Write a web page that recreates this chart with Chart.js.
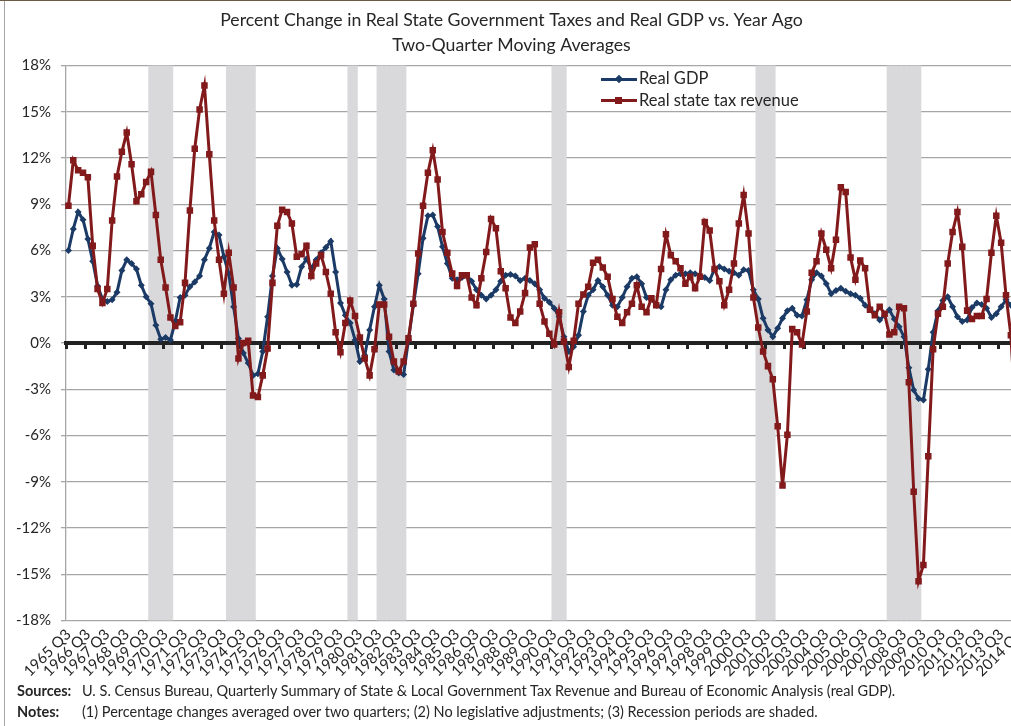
<!DOCTYPE html>
<html>
<head>
<meta charset="utf-8">
<script src="https://cdn.jsdelivr.net/npm/chart.js@4.4.1/dist/chart.umd.min.js"></script>
<style>
  html, body { margin: 0; padding: 0; background: #fff; overflow: hidden; }
  body { width: 1011px; height: 726px; position: relative; font-family: Lato, 'Open Sans', sans-serif; color: #262626; }
  #c { position: absolute; left: 0; top: 0; }
  .frame-left { position: absolute; left: 4px; top: 0; width: 1px; height: 726px; background: #a6a6a6; }
  .frame-top { position: absolute; left: 0; top: 0; width: 1011px; height: 1px; background: #6b5a45; }
  .legend { position: absolute; left: 600px; top: 68px; font-size: 16.5px; }
  .legend-row { position: relative; height: 21.5px; }
  .legend-line { position: absolute; left: 1px; top: 9.5px; width: 36px; height: 3px; }
  .legend-mark { position: absolute; left: 15px; top: 7.5px; width: 7px; height: 7px; }
  .legend-mark.diamond { transform: rotate(45deg); width: 6px; height: 6px; left: 16px; top: 8px; }
  .legend-text { position: absolute; left: 39px; top: 0px; white-space: nowrap; }
  .foot { position: absolute; left: 17px; font-size: 14.5px; white-space: nowrap; }
  .foot b { display: inline-block; width: 65px; }
</style>
</head>
<body>
<canvas id="c" width="1030" height="726"></canvas>
<div class="frame-left"></div>
<div class="frame-top"></div>

<div class="legend">
  <div class="legend-row">
    <div class="legend-line" style="background:#1b3a66"></div>
    <div class="legend-mark diamond" style="background:#1b3a66"></div>
    <div class="legend-text">Real GDP</div>
  </div>
  <div class="legend-row">
    <div class="legend-line" style="background:#82191b"></div>
    <div class="legend-mark" style="background:#82191b"></div>
    <div class="legend-text">Real state tax revenue</div>
  </div>
</div>

<div class="foot" style="top:682px"><b>Sources:</b>U. S. Census Bureau, Quarterly Summary of State &amp; Local Government Tax Revenue and Bureau of Economic Analysis (real GDP).</div>
<div class="foot" style="top:703px"><b>Notes:</b>(1) Percentage changes averaged over two quarters; (2) No legislative adjustments; (3) Recession periods are shaded.</div>

<script>
// Percent change vs. year ago, two-quarter moving averages, 1965 Q3 onward

const firstYear = 1965;
const labelCount = 197; // 1965 Q3 .. 2014 Q3

const quarterLabels = [];
for (let i = 0; i < labelCount; i++) {
    const q = 2 + i;
    quarterLabels.push(`${firstYear + Math.floor(q / 4)} Q${(q % 4) + 1}`);
}

const recessions = [
    ['1969 Q4', '1970 Q4'],
    ['1973 Q4', '1975 Q1'],
    ['1980 Q1', '1980 Q2'],
    ['1981 Q3', '1982 Q4'],
    ['1990 Q3', '1991 Q1'],
    ['2001 Q1', '2001 Q4'],
    ['2007 Q4', '2009 Q2'],
];

const yTicks = [-18, -15, -12, -9, -6, -3, 0, 3, 6, 9, 12, 15, 18];

const realGdp = [
    6.0, 7.4, 8.5, 8.0, 6.75, 5.3, 3.7, 2.85, 2.7, 2.8,
    3.3, 4.7, 5.4, 5.15, 4.8, 3.75, 3.0, 2.55, 1.15, 0.25,
    0.35, 0.2, 1.4, 2.95, 3.1, 3.65, 3.95, 4.35, 5.4, 6.15,
    7.2, 7.0, 5.6, 4.5, 2.35, 0.3, -0.65, -1.3, -2.1, -2.0,
    -0.55, 1.7, 4.35, 6.15, 5.45, 4.6, 3.75, 3.8, 4.95, 5.45,
    4.85, 5.4, 5.85, 6.2, 6.6, 4.6, 2.6, 1.8, 1.3, 0.2,
    -1.2, -0.8, 0.85, 2.35, 3.75, 2.85, -0.55, -1.75, -1.95, -2.05,
    0.2, 2.45, 4.5, 6.8, 8.25, 8.3, 7.55, 6.25, 5.15, 4.2,
    4.1, 4.25, 4.4, 4.0, 3.45, 3.1, 2.85, 3.1, 3.45, 4.0,
    4.4, 4.45, 4.35, 4.05, 4.2, 4.05, 3.85, 3.45, 2.9, 2.65,
    2.25, 1.7, 0.4, -0.55, -0.25, 0.5, 2.05, 3.1, 3.45, 4.05,
    3.65, 3.1, 2.45, 2.35, 2.95, 3.65, 4.2, 4.3, 3.85, 2.95,
    2.85, 2.45, 2.35, 3.45, 4.1, 4.4, 4.5, 4.5, 4.55, 4.5,
    4.4, 4.25, 4.05, 4.8, 4.95, 4.8, 4.65, 4.55, 4.4, 4.75,
    4.7, 3.45, 2.85, 1.6, 0.85, 0.4, 0.95, 1.6, 2.1, 2.25,
    1.8, 1.75, 2.8, 4.1, 4.55, 4.35, 3.85, 3.2, 3.4, 3.55,
    3.35, 3.2, 3.1, 2.9, 2.45, 2.2, 1.9, 1.5, 1.8, 2.15,
    1.55, 1.05, 0.4, -1.6, -3.05, -3.6, -3.7, -1.7, 0.7, 2.1,
    2.75, 3.0, 2.35, 1.7, 1.4, 1.5, 2.3, 2.6, 2.5, 2.25,
    1.65, 1.9, 2.35, 2.8, 2.45, 2.55
];

const realStateTax = [
    8.9, 11.85, 11.2, 11.05, 10.75, 6.3, 3.5, 2.6, 3.5, 7.95,
    10.8, 12.4, 13.65, 11.6, 9.2, 9.65, 10.45, 11.1, 8.3, 5.4,
    3.6, 1.65, 1.1, 1.35, 3.9, 8.6, 12.6, 15.15, 16.7, 12.25,
    7.95, 5.4, 3.2, 5.85, 3.6, -1.0, 0.0, 0.15, -3.4, -3.5,
    -2.1, -0.35, 3.9, 7.6, 8.65, 8.5, 7.75, 5.6, 5.75, 6.3,
    4.35, 5.15, 5.7, 4.6, 3.2, 0.7, -0.6, 1.3, 2.75, 1.75,
    0.35, -1.0, -2.1, -0.4, 2.5, 2.5, 0.4, -1.2, -1.85, -1.2,
    0.3, 2.55, 5.8, 8.9, 11.05, 12.5, 10.6, 7.2, 5.85, 4.5,
    3.7, 4.4, 4.4, 2.95, 2.45, 4.2, 5.9, 8.05, 7.45, 4.65,
    3.55, 1.65, 1.3, 2.05, 3.25, 6.2, 6.4, 2.55, 1.4, 0.6,
    -0.1, 2.0, 0.1, -1.55, 0.15, 2.55, 3.15, 3.65, 5.2, 5.4,
    4.9, 4.3, 2.85, 1.7, 1.3, 2.0, 2.55, 3.75, 2.35, 2.0,
    2.9, 2.45, 4.8, 7.05, 5.7, 5.3, 4.85, 3.85, 4.3, 3.55,
    4.3, 7.85, 7.3, 4.8, 4.0, 2.45, 3.45, 5.15, 7.75, 9.6,
    7.1, 2.95, 1.0, -0.55, -1.5, -2.35, -5.4, -9.25, -5.95, 0.9,
    0.7, -0.1, 2.05, 4.55, 5.3, 7.1, 6.05, 4.85, 6.7, 10.1,
    9.8, 5.55, 4.1, 5.35, 4.85, 2.15, 1.8, 2.35, 1.9, 0.55,
    0.7, 2.35, 2.25, -2.55, -9.65, -15.45, -14.4, -7.35, -0.4, 1.9,
    2.35, 5.15, 7.2, 8.5, 6.25, 2.1, 1.55, 1.75, 1.75, 2.85,
    5.85, 8.25, 6.5, 3.1, 0.5, -4.9
];

const yMin = yTicks[0];
const yMax = yTicks[yTicks.length - 1];

// shaded recession quarters: full-height floating bars
const recessionBands = quarterLabels.map((label, idx) => {
    const inside = recessions.some(([from, to]) =>
        idx >= quarterLabels.indexOf(from) && idx <= quarterLabels.indexOf(to));
    return inside ? [yMin, yMax] : null;
});

// redraw the zero axis on top of the shading, beneath the lines
const zeroAxisOverBands = {
    id: 'zeroAxisOverBands',
    afterDatasetDraw(chart, args) {
        if (args.meta.type === 'bar') chart.scales.x2.draw(chart.chartArea);
    }
};

const FONT = "Lato, 'Open Sans', sans-serif";
const TEXT = '#262626';

new Chart(document.getElementById('c'), {
    data: {
        labels: quarterLabels,
        datasets: [
            {
                type: 'line', label: 'Real state tax revenue', data: realStateTax, order: 0,
                borderColor: '#82191b', backgroundColor: '#82191b', borderWidth: 3,
                pointStyle: 'rect', pointRadius: 4.6, pointBorderWidth: 0, tension: 0
            },
            {
                type: 'line', label: 'Real GDP', data: realGdp, order: 1,
                borderColor: '#1b3a66', backgroundColor: '#1b3a66', borderWidth: 3,
                pointStyle: 'rectRot', pointRadius: 3.5, pointBorderWidth: 0, tension: 0
            },
            {
                type: 'bar', label: 'Recession', data: recessionBands, order: 2,
                backgroundColor: '#d9d9db', borderWidth: 0,
                barPercentage: 1, categoryPercentage: 1, grouped: false
            }
        ]
    },
    options: {
        responsive: false, animation: false, devicePixelRatio: 1,
        layout: { padding: { left: 0, right: 7, top: 0, bottom: 0 } },
        plugins: {
            legend: { display: false },
            tooltip: { enabled: false },
            title: {
                display: true,
                text: ['Percent Change in Real State Government Taxes and Real GDP vs. Year Ago', 'Two-Quarter Moving Averages'],
                color: TEXT, font: { family: FONT, size: 17.7, weight: 'normal', lineHeight: '25px' },
                padding: { top: 8, bottom: 7.5 }
            }
        },
        scales: {
            x: {
                type: 'category', offset: true,
                grid: { display: false, drawTicks: false },
                border: { display: false },
                ticks: {
                    autoSkip: false, minRotation: 45, maxRotation: 45, padding: 5,
                    color: TEXT, font: { family: FONT, size: 15 },
                    callback: function (val, idx) { return idx % 4 === 0 ? this.getLabelForValue(val) : null; }
                },
                afterFit: s => { s.height = 726 - 620.5; s.paddingLeft = 0; s.paddingRight = 0; }
            },
            x2: {
                type: 'category', offset: true, position: { y: 0 },
                grid: {
                    display: true, drawOnChartArea: false, drawTicks: true, tickLength: 4, offset: true,
                    lineWidth: 3, color: ctx => (ctx.index % 4 === 0 ? '#222' : 'rgba(0,0,0,0)')
                },
                border: { display: true, color: '#222', width: 4 },
                ticks: { display: false, autoSkip: false },
                afterFit: s => { s.paddingLeft = 0; s.paddingRight = 0; }
            },
            y: {
                min: yMin, max: yMax,
                afterBuildTicks: s => { s.ticks = yTicks.map(v => ({ value: v })); },
                grid: { color: '#a6a6a6', lineWidth: 1.3, tickLength: 5 },
                border: { color: '#a6a6a6', width: 1.3 },
                ticks: { color: TEXT, font: { family: FONT, size: 15 }, padding: 10, callback: v => v + '%' },
                afterFit: s => { s.width = 66; }
            }
        }
    },
    plugins: [zeroAxisOverBands]
});
</script>
</body>
</html>
